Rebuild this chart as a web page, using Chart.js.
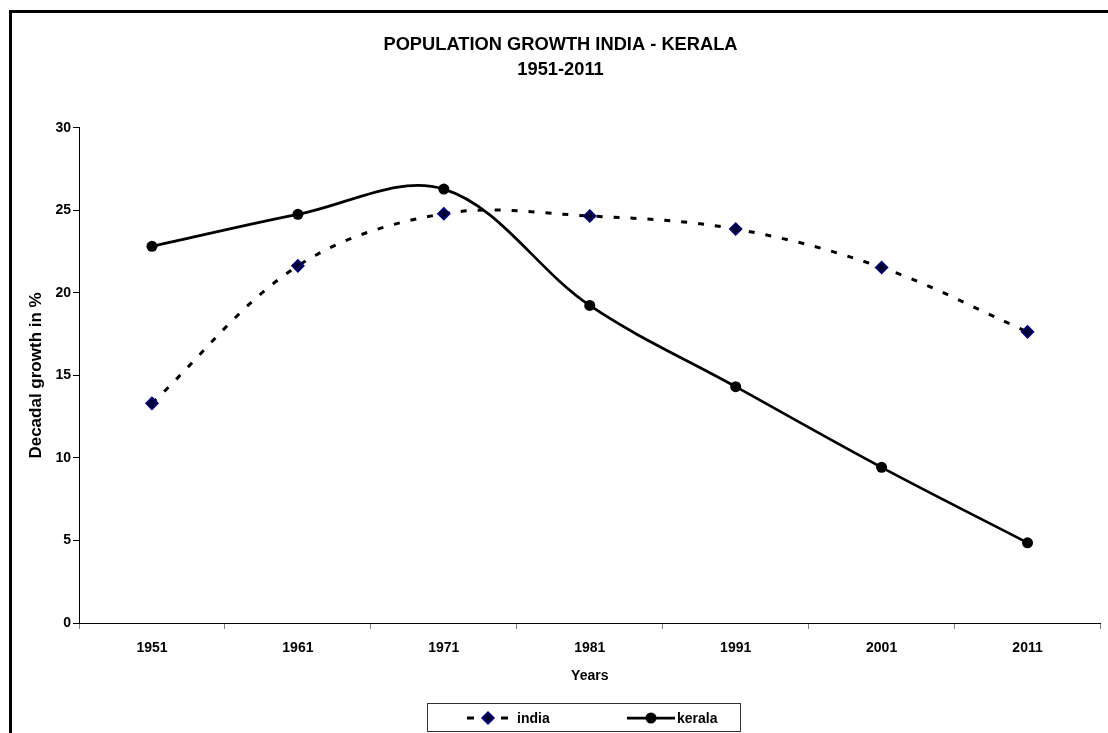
<!DOCTYPE html>
<html>
<head>
<meta charset="utf-8">
<script src="https://cdn.jsdelivr.net/npm/chart.js@4"></script>
<style>
  body { margin: 0; background: #fff; }
  #wrap { position: relative; width: 1108px; height: 733px; overflow: hidden; }
  #frame { position: absolute; left: 9px; top: 10px; width: 1200px; height: 800px;
           border-left: 3px solid #000; border-top: 3px solid #000; }
  canvas { position: absolute; left: 0; top: 0; }
</style>
</head>
<body>
<div id="wrap">
  <div id="frame"></div>
  <canvas id="chart" width="1108" height="733"></canvas>
</div>
<script>
// decadal growth values
const years = ['1951', '1961', '1971', '1981', '1991', '2001', '2011'];
const india = [13.31, 21.64, 24.80, 24.66, 23.87, 21.54, 17.64];
const kerala = [22.82, 24.76, 26.29, 19.24, 14.32, 9.43, 4.86];
const yTicks = [0, 5, 10, 15, 20, 25, 30];

const FONT = 'Arial, "Liberation Sans", sans-serif';

// legend in a boxed frame under the axis title
const boxLegend = {
  id: 'boxLegend',
  afterDraw(chart) {
    const ctx = chart.ctx;
    ctx.save();
    ctx.strokeStyle = '#333';
    ctx.lineWidth = 1;
    ctx.strokeRect(427.5, 703.5, 313, 28);

    const cy = 718;
    // india sample
    ctx.strokeStyle = '#000';
    ctx.lineWidth = 3;
    ctx.beginPath();
    ctx.moveTo(467, cy); ctx.lineTo(474, cy);
    ctx.moveTo(501, cy); ctx.lineTo(508, cy);
    ctx.stroke();
    ctx.beginPath();
    ctx.moveTo(488, cy - 6); ctx.lineTo(494, cy); ctx.lineTo(488, cy + 6); ctx.lineTo(482, cy);
    ctx.closePath();
    ctx.fillStyle = '#000033';
    ctx.fill();
    ctx.strokeStyle = '#000080';
    ctx.lineWidth = 1.5;
    ctx.stroke();

    // kerala sample
    ctx.strokeStyle = '#000';
    ctx.lineWidth = 2.75;
    ctx.beginPath();
    ctx.moveTo(627, cy); ctx.lineTo(675, cy);
    ctx.stroke();
    ctx.beginPath();
    ctx.arc(651, cy, 5.5, 0, Math.PI * 2);
    ctx.fillStyle = '#000';
    ctx.fill();

    ctx.font = 'bold 14px ' + FONT;
    ctx.fillStyle = '#000';
    ctx.textBaseline = 'middle';
    ctx.fillText('india', 517, cy + 1);
    ctx.fillText('kerala', 677, cy + 1);
    ctx.restore();
  }
};

const ctx = document.getElementById('chart').getContext('2d');
new Chart(ctx, {
  type: 'line',
  data: {
    labels: years,
    datasets: [
      {
        label: 'india',
        data: india,
        borderColor: '#000',
        borderWidth: 3,
        borderDash: [6, 11],
        tension: 0.35,
        pointStyle: 'rectRot',
        pointRadius: 6,
        pointBackgroundColor: '#000033',
        pointBorderColor: '#000080',
        pointBorderWidth: 1.5
      },
      {
        label: 'kerala',
        data: kerala,
        borderColor: '#000',
        borderWidth: 2.75,
        tension: 0.35,
        pointStyle: 'circle',
        pointRadius: 5.5,
        pointBackgroundColor: '#000',
        pointBorderColor: '#000',
        pointBorderWidth: 0
      }
    ]
  },
  options: {
    responsive: false,
    animation: false,
    layout: { padding: { left: 16, right: 3, top: 0, bottom: 0 } },
    plugins: {
      legend: { display: false },
      tooltip: { enabled: false },
      title: {
        display: true,
        text: ['POPULATION GROWTH INDIA - KERALA', '1951-2011'],
        color: '#000',
        font: { family: FONT, size: 18.3, weight: 'bold', lineHeight: 1.39 },
        padding: { top: 32, bottom: 45 }
      }
    },
    scales: {
      x: {
        offset: true,
        grid: { display: true, drawOnChartArea: false, offset: true, tickLength: 6, tickColor: '#808080' },
        border: { display: true, color: '#000', width: 1 },
        ticks: { color: '#000', padding: 11, font: { family: FONT, size: 14, weight: 'bold' } },
        title: {
          display: true, text: 'Years', color: '#000',
          font: { family: FONT, size: 14, weight: 'bold' },
          padding: { top: 0, bottom: 48.6 }
        },
        afterFit(scale) { scale.height = 110; }
      },
      y: {
        min: 0,
        max: 30,
        afterBuildTicks(scale) { scale.ticks = yTicks.map(v => ({ value: v })); },
        grid: { display: true, drawOnChartArea: false, tickLength: 6, tickColor: '#000' },
        border: { display: true, color: '#000', width: 1 },
        ticks: { color: '#000', padding: 2, font: { family: FONT, size: 14, weight: 'bold' } },
        title: {
          display: true, text: 'Decadal growth in %', color: '#000',
          font: { family: FONT, size: 17, weight: 'bold' },
          padding: { top: 9.8, bottom: 0 }
        },
        afterFit(scale) { scale.width = 63; }
      }
    }
  },
  plugins: [boxLegend]
});
</script>
</body>
</html>
